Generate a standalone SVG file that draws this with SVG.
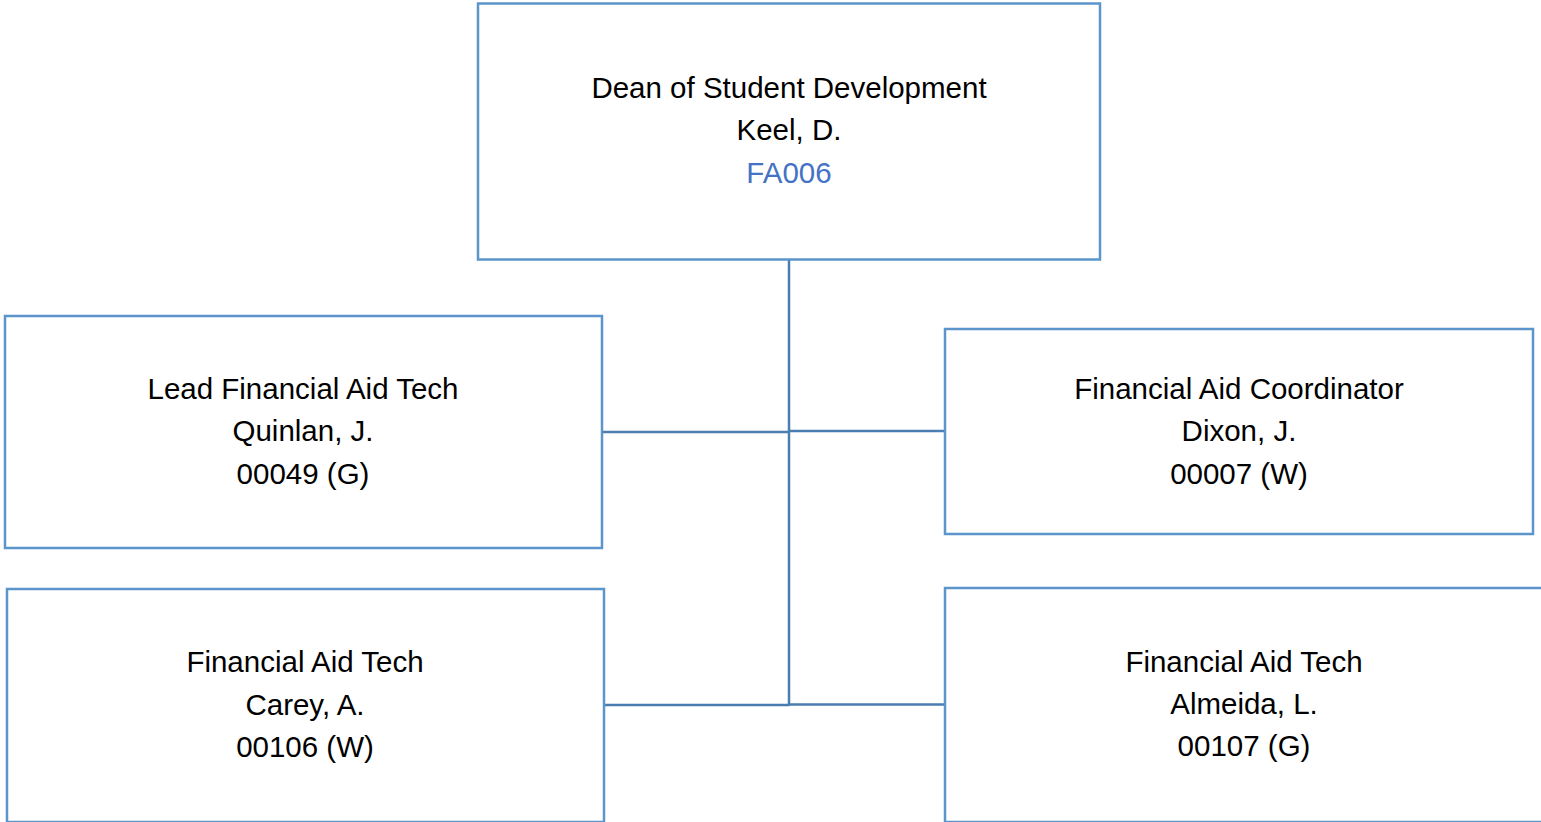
<svg xmlns="http://www.w3.org/2000/svg" width="1541" height="822" viewBox="0 0 1541 822">
<style>
.box{fill:#fff;stroke:#5B95CB;stroke-width:2.5}
.t{font-family:"Liberation Sans",Arial,sans-serif;font-size:29.5px;fill:#000;text-anchor:middle}
.blue{fill:#4472C4}
.c{stroke:#4A7DB0;stroke-width:2.5;fill:none}
</style>
<rect width="1541" height="822" fill="#fff"/>
<g id="connectors">
<line class="c" x1="789" y1="260" x2="789" y2="706"/>
<line class="c" x1="602" y1="432" x2="789" y2="432"/>
<line class="c" x1="789" y1="431" x2="945" y2="431"/>
<line class="c" x1="604" y1="705" x2="789" y2="705"/>
<line class="c" x1="789" y1="704.5" x2="945" y2="704.5"/>
</g>
<g id="dean">
<rect class="box" x="478" y="3.5" width="622" height="256"/>
<text class="t" x="789" y="98">Dean of Student Development</text>
<text class="t" x="789" y="140">Keel, D.</text>
<text class="t blue" x="789" y="183">FA006</text>
</g>
<g id="lead">
<rect class="box" x="5" y="316" width="597" height="232"/>
<text class="t" x="303" y="399">Lead Financial Aid Tech</text>
<text class="t" x="303" y="441">Quinlan, J.</text>
<text class="t" x="303" y="484">00049 (G)</text>
</g>
<g id="coordinator">
<rect class="box" x="945" y="329" width="588" height="205"/>
<text class="t" x="1239" y="399">Financial Aid Coordinator</text>
<text class="t" x="1239" y="441">Dixon, J.</text>
<text class="t" x="1239" y="484">00007 (W)</text>
</g>
<g id="carey">
<rect class="box" x="7" y="589" width="597" height="233"/>
<text class="t" x="305" y="672">Financial Aid Tech</text>
<text class="t" x="305" y="715">Carey, A.</text>
<text class="t" x="305" y="757">00106 (W)</text>
</g>
<g id="almeida">
<rect class="box" x="945" y="588" width="600" height="234"/>
<text class="t" x="1244" y="672">Financial Aid Tech</text>
<text class="t" x="1244" y="714">Almeida, L.</text>
<text class="t" x="1244" y="756">00107 (G)</text>
</g>
</svg>
